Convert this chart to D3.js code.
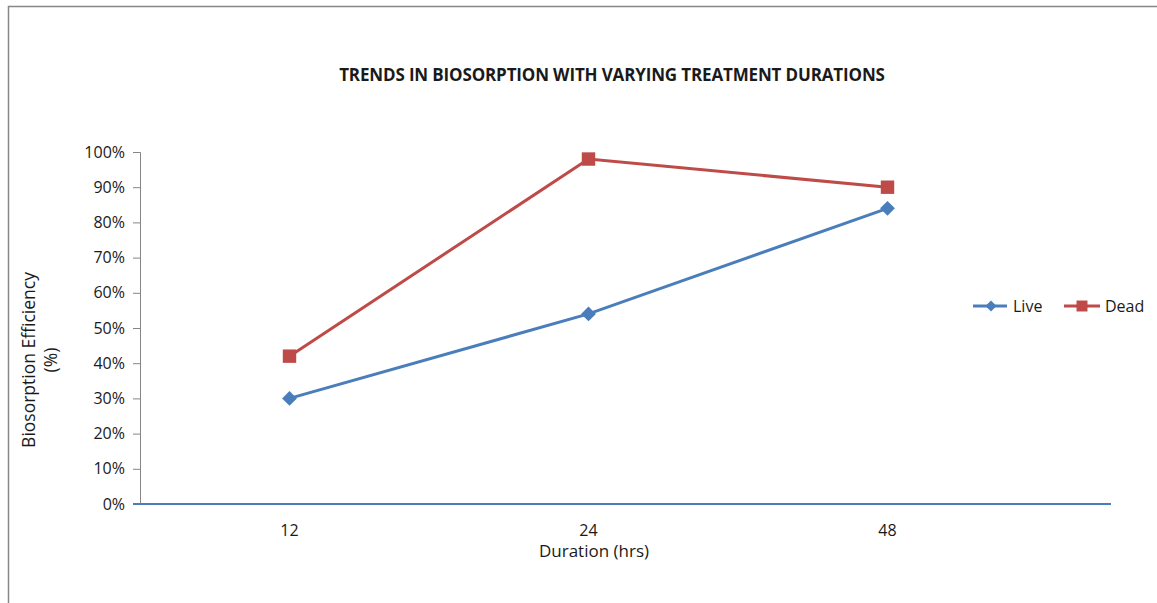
<!DOCTYPE html>
<html>
<head>
<meta charset="utf-8">
<script src="https://cdnjs.cloudflare.com/ajax/libs/d3/7.8.5/d3.min.js"></script>
<style>
  body { margin: 0; background: #fff; }
  svg text { font-family: 'Open Sans', 'Noto Sans', sans-serif; fill: #1a1a1a; }
</style>
</head>
<body>
<svg id="chart" width="1157" height="603"></svg>
<script>
// chart data
let durations = ['12', '24', '48'];
let liveValues = [0.30, 0.54, 0.84];
let deadValues = [0.42, 0.98, 0.90];
let yTicks = [0, 0.1, 0.2, 0.3, 0.4, 0.5, 0.6, 0.7, 0.8, 0.9, 1.0];
let seriesNames = ['Live', 'Dead'];
let seriesColors = ['#4a7ebb', '#be4b48'];

let series = [
  {name: seriesNames[0], values: liveValues, color: seriesColors[0], marker: 'diamond'},
  {name: seriesNames[1], values: deadValues, color: seriesColors[1], marker: 'square'}
];

let margin = {top: 152, left: 140},
  plotWidth = 971,
  height = 352;

let svg = d3.select('#chart');

// outer frame of the chart area
svg.append('rect')
  .attr('x', 8.5)
  .attr('y', 6.5)
  .attr('width', 1300)
  .attr('height', 800)
  .attr('fill', 'none')
  .attr('stroke', '#878787')
  .attr('stroke-width', 1.5);

svg.append('text')
  .attr('x', 612)
  .attr('y', 81)
  .attr('text-anchor', 'middle')
  .attr('font-size', 17)
  .attr('font-weight', 'bold')
  .attr('letter-spacing', -0.15)
  .text('TRENDS IN BIOSORPTION WITH VARYING TREATMENT DURATIONS');

let g = svg.append('g')
  .attr('transform', 'translate(' + margin.left + ',' + margin.top + ')');

let xScale = d3.scaleBand()
  .domain(durations)
  .range([0, 897]);

let yScale = d3.scaleLinear()
  .domain([0, 1])
  .range([height, 0]);

// marker shapes: square, and a square turned 45 degrees for the diamond
let markerPath = (size) => d3.symbol().type(d3.symbolSquare).size(size)();
let markerRotate = (type) => type === 'diamond' ? ' rotate(45)' : '';

// y axis
let yAxis = g.append('g')
  .call(d3.axisLeft(yScale).tickValues(yTicks).tickFormat(d3.format('.0%')).tickSizeOuter(0).tickSize(7).tickPadding(8));
yAxis.select('.domain').attr('stroke', '#868686');
yAxis.selectAll('.tick line').attr('stroke', '#868686');
yAxis.selectAll('.tick text')
  .attr('font-size', 16)
  .attr('font-family', "'Open Sans', sans-serif")
  .attr('fill', '#1a1a1a');

// x axis: blue baseline running the full plot width, labels below categories
g.append('line')
  .attr('x1', -7)
  .attr('x2', plotWidth)
  .attr('y1', yScale(0))
  .attr('y2', yScale(0))
  .attr('stroke', '#4a7ebb')
  .attr('stroke-width', 2);

g.selectAll('.x-label')
  .data(durations)
  .enter()
  .append('text')
  .attr('class', 'x-label')
  .attr('x', (d) => xScale(d) + xScale.bandwidth() / 2)
  .attr('y', yScale(0) + 32)
  .attr('text-anchor', 'middle')
  .attr('font-size', 16)
  .text((d) => d);

svg.append('text')
  .attr('x', 594)
  .attr('y', 557)
  .attr('text-anchor', 'middle')
  .attr('font-size', 17)
  .text('Duration (hrs)');

// y axis title, two lines
let yTitle = svg.append('text')
  .attr('transform', 'translate(35,360) rotate(-90)')
  .attr('text-anchor', 'middle')
  .attr('font-size', 17.5);
yTitle.append('tspan').attr('x', 0).attr('dy', 0).text('Biosorption Efficiency');
yTitle.append('tspan').attr('x', 0).attr('dy', 22).text('(%)');

let line = d3.line()
  .x((d, i) => xScale(durations[i]) + xScale.bandwidth() / 2)
  .y((d) => yScale(d));

let groups = g.selectAll('.series')
  .data(series)
  .enter()
  .append('g')
  .attr('class', 'series');

groups.append('path')
  .attr('d', (d) => line(d.values))
  .attr('fill', 'none')
  .attr('stroke', (d) => d.color)
  .attr('stroke-width', 3);

groups.selectAll('.marker')
  .data((d) => d.values.map((v, i) => ({v: v, i: i, s: d})))
  .enter()
  .append('path')
  .attr('class', 'marker')
  .attr('transform', (d) => 'translate(' + (xScale(durations[d.i]) + xScale.bandwidth() / 2) + ',' + yScale(d.v) + ')' + markerRotate(d.s.marker))
  .attr('d', (d) => markerPath(d.s.marker === 'square' ? 180 : 110))
  .attr('fill', (d) => d.s.color);

// legend
let legend = svg.append('g')
  .attr('transform', 'translate(973,306)');

let items = legend.selectAll('.legend-item')
  .data(series)
  .enter()
  .append('g')
  .attr('class', 'legend-item')
  .attr('transform', (d, i) => 'translate(' + (i * 91) + ',0)');

items.append('line')
  .attr('x1', 0)
  .attr('x2', (d, i) => i === 0 ? 34 : 36)
  .attr('stroke', (d) => d.color)
  .attr('stroke-width', 3);

items.append('path')
  .attr('transform', (d) => 'translate(18,0)' + markerRotate(d.marker))
  .attr('d', (d) => markerPath(d.marker === 'square' ? 120 : 60))
  .attr('fill', (d) => d.color);

items.append('text')
  .attr('x', (d, i) => i === 0 ? 40 : 41)
  .attr('y', 6)
  .attr('font-size', 16)
  .text((d) => d.name);
</script>
</body>
</html>
